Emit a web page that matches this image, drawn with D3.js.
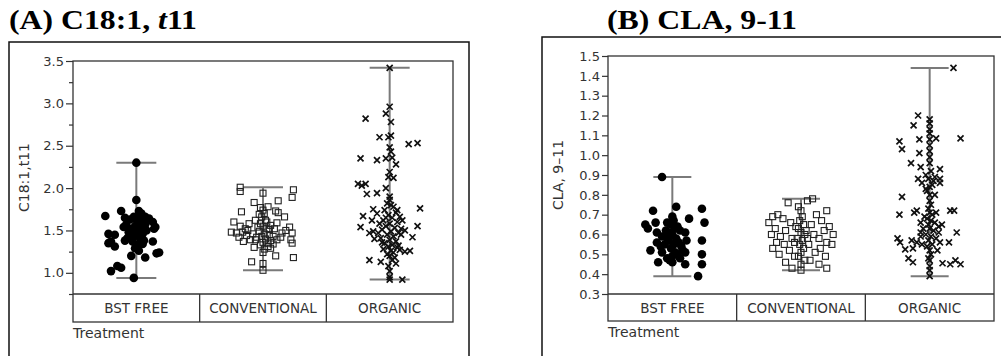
<!DOCTYPE html>
<html>
<head>
<meta charset="utf-8">
<script src="https://cdn.jsdelivr.net/npm/d3@7"></script>
<style>
  html, body { margin: 0; padding: 0; background: #fff; }
  svg { display: block; }
</style>
</head>
<body>
<svg id="chart" width="1001" height="356"></svg>
<script>
// Treatment groups shared by both panels
const treatments = ["BST FREE", "CONVENTIONAL", "ORGANIC"];

// Panel A: C18:1 t11 — each point is [jitter (fraction of group width), value]
const t11BstFree = [
  [0.00,2.30],[0.00,1.86],[-0.245,1.67],[-0.12,1.73],[-0.09,1.65],[0.02,1.73],[0.03,1.69],[0.07,1.66],
  [0.13,1.60],[0.15,1.54],[0.14,1.52],[-0.10,1.54],[-0.08,1.57],[-0.22,1.46],[-0.17,1.45],[-0.20,1.37],
  [-0.22,1.35],[-0.17,1.31],[-0.09,1.38],[-0.05,1.43],[0.13,1.37],[0.16,1.23],[0.18,1.24],[0.07,1.18],
  [-0.04,1.20],[-0.15,1.08],[-0.12,1.06],[-0.20,1.02],[-0.02,0.94],
  [0.00,1.63],[0.01,1.59],[-0.01,1.55],[0.02,1.51],[-0.02,1.47],[0.00,1.44],[0.03,1.41],[-0.03,1.37],
  [0.01,1.33],[-0.01,1.29],[0.02,1.26],[0.04,1.61],[-0.04,1.52],[0.05,1.46],[-0.05,1.63],[0.06,1.38],
  [0.04,1.70],[-0.02,1.66],[0.03,1.54],[0.08,1.50],[-0.06,1.48],[0.07,1.57],[-0.07,1.41],[0.10,1.64],[0.05,1.34]
];
const t11Conventional = [
  [-0.18,2.01],[-0.18,1.96],[0.00,1.94],[0.24,1.98],[0.23,1.89],[-0.07,1.83],[0.12,1.85],[0.04,1.78],
  [-0.02,1.77],[-0.17,1.72],[0.10,1.73],[0.12,1.71],[0.17,1.66],[-0.03,1.69],[-0.23,1.60],[-0.18,1.55],
  [-0.11,1.58],[0.11,1.59],[0.21,1.54],[-0.25,1.48],[-0.21,1.47],[-0.16,1.48],[-0.12,1.50],[0.05,1.51],
  [0.15,1.47],[0.23,1.47],[-0.19,1.42],[-0.155,1.37],[-0.10,1.39],[-0.06,1.39],[0.06,1.38],[0.11,1.39],
  [0.22,1.39],[0.23,1.35],[-0.07,1.30],[0.04,1.31],[0.06,1.29],[0.10,1.20],[0.24,1.18],[-0.09,1.13],
  [0.00,1.11],[0.00,1.03],
  [0.00,1.74],[0.01,1.70],[-0.01,1.66],[0.02,1.62],[-0.02,1.58],[0.00,1.55],[0.03,1.52],[-0.03,1.49],
  [0.01,1.46],[-0.01,1.43],[0.02,1.40],[0.00,1.36],[-0.02,1.33],[0.01,1.28],[0.00,1.24],[0.03,1.60],
  [-0.04,1.54],[0.05,1.45],[-0.05,1.42],[0.04,1.35],[0.06,1.56],[-0.06,1.62],[0.08,1.43],[-0.08,1.46],
  [0.09,1.52],[-0.13,1.44],[0.14,1.42],[0.18,1.50],[-0.14,1.52],[0.08,1.34]
];
const t11Organic = [
  [0.00,3.42],[0.00,2.96],[-0.03,2.88],[0.01,2.78],[-0.19,2.82],[-0.08,2.60],[-0.01,2.60],[0.01,2.62],
  [0.15,2.52],[0.22,2.53],[0.00,2.48],[0.01,2.43],[-0.23,2.35],[-0.10,2.33],[-0.03,2.35],[0.02,2.36],
  [0.05,2.28],[0.00,2.19],[-0.01,2.13],[0.03,2.12],[-0.25,2.05],[-0.22,2.03],[-0.19,2.05],[-0.18,1.93],
  [-0.10,1.94],[-0.03,2.00],[0.00,1.90],[0.01,1.80],[-0.13,1.75],[0.24,1.76],[-0.21,1.67],[-0.14,1.62],
  [-0.23,1.54],[-0.16,1.47],[-0.13,1.49],[0.22,1.55],[0.18,1.42],[0.09,1.45],[0.08,1.27],[0.16,1.26],
  [0.12,1.25],[-0.16,1.15],[-0.07,1.13],[0.05,1.11],[0.00,0.95],[0.10,0.92],[0.00,0.92],
  [0.00,1.86],[-0.02,1.82],[0.03,1.78],[-0.04,1.74],[0.05,1.71],[-0.01,1.68],[0.02,1.65],[-0.05,1.62],
  [0.06,1.60],[0.00,1.58],[-0.03,1.55],[0.04,1.53],[-0.06,1.51],[0.01,1.49],[0.07,1.47],[-0.02,1.45],
  [0.03,1.43],[-0.07,1.41],[0.00,1.39],[0.05,1.37],[-0.04,1.35],[0.02,1.33],[-0.01,1.31],[0.06,1.30],
  [-0.05,1.28],[0.01,1.26],[0.03,1.24],[-0.02,1.22],[0.00,1.20],[0.04,1.18],[-0.03,1.65],[0.08,1.66],
  [-0.08,1.58],[0.09,1.52],[-0.09,1.47],[0.10,1.62],[-0.10,1.70],[0.06,1.74],[-0.06,1.36],[0.07,1.32],
  [0.02,1.15],[-0.01,1.08],[0.00,1.02],[0.12,1.50],[-0.12,1.40]
];

// Panel B: CLA 9-11
const claBstFree = [
  [-0.08,0.89],[0.03,0.74],[-0.15,0.72],[0.23,0.73],[0.25,0.66],[0.13,0.68],[-0.21,0.65],[-0.19,0.63],
  [-0.13,0.66],[-0.12,0.61],[-0.08,0.59],[-0.05,0.62],[0.10,0.61],[0.11,0.57],[0.23,0.57],[-0.12,0.56],
  [-0.09,0.54],[-0.17,0.52],[-0.08,0.51],[0.07,0.54],[0.08,0.52],[0.10,0.51],[0.23,0.50],[-0.11,0.46],
  [-0.02,0.47],[0.06,0.48],[0.10,0.45],[0.23,0.45],[0.20,0.39],[0.00,0.46],
  [0.00,0.69],[0.01,0.67],[-0.01,0.65],[0.02,0.63],[-0.02,0.61],[0.00,0.60],[0.03,0.58],[-0.03,0.57],
  [0.01,0.55],[-0.01,0.53],[0.02,0.51],[0.00,0.49],[0.04,0.64],[-0.04,0.66],[0.05,0.56],[-0.05,0.59],
  [0.06,0.62],[-0.06,0.55],[0.04,0.50],[-0.04,0.48]
];
const claConventional = [
  [0.09,0.78],[-0.10,0.76],[0.05,0.77],[0.20,0.72],[-0.02,0.74],[-0.18,0.70],[-0.22,0.69],[-0.14,0.68],
  [0.12,0.70],[0.16,0.67],[-0.25,0.66],[-0.08,0.66],[0.22,0.64],[0.08,0.65],[-0.20,0.63],[-0.12,0.62],
  [0.18,0.62],[0.25,0.60],[-0.23,0.60],[-0.16,0.59],[0.10,0.60],[0.14,0.58],[-0.07,0.58],[-0.19,0.56],
  [0.20,0.56],[0.24,0.55],[-0.13,0.55],[0.06,0.55],[-0.22,0.53],[0.15,0.53],[-0.09,0.52],[0.11,0.51],
  [-0.17,0.50],[0.19,0.49],[-0.05,0.49],[0.07,0.47],[-0.12,0.46],[0.14,0.45],[-0.07,0.43],[0.20,0.43],
  [0.00,0.42],
  [0.00,0.72],[0.01,0.69],[-0.01,0.67],[0.02,0.65],[-0.02,0.63],[0.00,0.61],[0.03,0.60],[-0.03,0.58],
  [0.01,0.57],[-0.01,0.55],[0.02,0.53],[0.00,0.51],[-0.02,0.49],[0.04,0.62],[-0.04,0.64],[0.05,0.58],
  [-0.05,0.56],[0.03,0.47],[0.00,0.45]
];
const claOrganic = [
  [0.185,1.44],[-0.09,1.20],[-0.125,1.15],[0.00,1.18],[0.00,1.16],[0.00,1.13],[0.00,1.11],[-0.235,1.07],
  [-0.215,1.03],[-0.08,1.08],[0.00,1.08],[0.05,1.085],[0.24,1.085],[-0.08,1.01],[0.00,0.99],[-0.145,0.96],
  [-0.07,0.94],[-0.03,0.90],[0.08,0.93],[0.04,0.89],[-0.09,0.88],[-0.06,0.86],[0.08,0.88],[0.08,0.86],
  [0.00,0.84],[-0.215,0.79],[0.00,0.77],[-0.235,0.70],[-0.12,0.71],[-0.10,0.72],[0.05,0.71],[0.16,0.72],
  [0.19,0.72],[0.095,0.65],[0.07,0.64],[-0.07,0.61],[0.21,0.61],[-0.25,0.58],[-0.23,0.56],[-0.19,0.525],
  [-0.14,0.57],[-0.13,0.53],[-0.10,0.56],[-0.07,0.59],[0.08,0.56],[0.15,0.56],[-0.165,0.48],[-0.13,0.46],
  [0.00,0.47],[0.10,0.455],[0.16,0.45],[0.20,0.47],[0.24,0.45],[0.00,0.39],
  [0.00,1.05],[0.00,1.02],[0.00,0.96],[0.01,0.92],[-0.01,0.88],[0.02,0.85],[-0.02,0.82],[0.00,0.80],
  [0.01,0.75],[-0.01,0.73],[0.00,0.71],[0.02,0.70],[-0.02,0.68],[0.01,0.67],[-0.01,0.65],[0.00,0.63],
  [0.03,0.62],[-0.03,0.60],[0.01,0.59],[-0.01,0.57],[0.02,0.55],[-0.02,0.54],[0.00,0.52],[0.01,0.50],
  [-0.01,0.48],[0.00,0.44],[0.00,0.42],[0.04,0.66],[-0.04,0.69],[0.05,0.58],[-0.05,0.63],[0.06,0.52],
  [-0.06,0.55],[0.03,0.87],[-0.03,0.83],[0.04,0.80],[0.07,0.61],[-0.07,0.66]
];

// Axis ticks
const t11MajorTicks = [1.0, 1.5, 2.0, 2.5, 3.0, 3.5];
const t11MinorTicks = [0.75, 1.25, 1.75, 2.25, 2.75, 3.25];
const claTicks = [0.3, 0.4, 0.5, 0.6, 0.7, 0.8, 0.9, 1.0, 1.1, 1.2, 1.3, 1.4, 1.5];

const svg = d3.select("#chart");
const SANS = "'DejaVu Sans', Verdana, sans-serif";
const INK = "#333";

function drawPanel(cfg) {
  const g = svg.append("g");

  // outer frame
  g.append("rect")
    .attr("x", cfg.frame[0]).attr("y", cfg.frame[1])
    .attr("width", cfg.frame[2] - cfg.frame[0]).attr("height", 400)
    .attr("fill", "none").attr("stroke", "#111").attr("stroke-width", 1.5);

  // title (bold serif, slightly wide)
  const title = g.append("text")
    .attr("font-family", "'Liberation Serif', 'Times New Roman', serif")
    .attr("font-weight", "bold").attr("font-size", 28).attr("fill", "#000");
  cfg.title.forEach(part => {
    title.append("tspan").text(part.text)
      .attr("font-style", part.italic ? "italic" : null);
  });
  const tw = title.node().getComputedTextLength();
  title.attr("transform", `translate(${cfg.titlePos[0]},${cfg.titlePos[1]}) scale(${cfg.titleWidth / tw},1)`);

  const x = d3.scaleBand().domain(treatments).range([cfg.left, cfg.right]);
  const y = d3.scaleLinear().domain(cfg.domain).range([cfg.bottom, cfg.top]);

  // y axis ticks
  const axisG = g.append("g").attr("transform", `translate(${cfg.left},0)`);
  axisG.call(d3.axisLeft(y).tickValues(cfg.majorTicks).tickFormat(d3.format(".1f"))
      .tickSize(cfg.majorTickLen).tickPadding(2).tickSizeOuter(0))
    .call(a => a.select(".domain").remove())
    .call(a => a.selectAll("line").attr("stroke", INK).attr("stroke-width", 1.2))
    .call(a => a.selectAll("text").attr("fill", INK).attr("font-family", SANS).attr("font-size", 13));
  if (cfg.minorTicks) {
    const minorG = g.append("g").attr("transform", `translate(${cfg.left},0)`);
    minorG.call(d3.axisLeft(y).tickValues(cfg.minorTicks).tickFormat("").tickSize(4).tickSizeOuter(0))
      .call(a => a.select(".domain").remove())
      .call(a => a.selectAll("line").attr("stroke", INK).attr("stroke-width", 1.2));
  }

  // plot box, category row and dividers
  const box = g.append("g").attr("fill", "none").attr("stroke", INK).attr("stroke-width", 1.3);
  box.append("rect").attr("x", cfg.left).attr("y", cfg.top)
    .attr("width", cfg.right - cfg.left).attr("height", cfg.catBottom - cfg.top);
  box.append("line").attr("x1", cfg.left).attr("x2", cfg.right)
    .attr("y1", cfg.bottom).attr("y2", cfg.bottom);
  treatments.slice(1).forEach(t => {
    box.append("line").attr("x1", x(t)).attr("x2", x(t))
      .attr("y1", cfg.bottom).attr("y2", cfg.catBottom);
  });

  // category labels
  g.append("g").selectAll("text").data(treatments).join("text")
    .attr("x", d => x(d) + x.bandwidth() / 2)
    .attr("y", (cfg.bottom + cfg.catBottom) / 2 + 5)
    .attr("text-anchor", "middle").attr("font-family", SANS).attr("font-size", 13.5)
    .attr("fill", INK).text(d => d);

  // x axis title
  g.append("text").attr("x", cfg.left).attr("y", cfg.catBottom + 16)
    .attr("font-family", SANS).attr("font-size", 14).attr("fill", INK).text("Treatment");

  // y axis title
  g.append("text")
    .attr("transform", `translate(${cfg.yLabelX},${(cfg.top + cfg.bottom) / 2}) rotate(-90)`)
    .attr("text-anchor", "middle").attr("font-family", SANS).attr("font-size", 14)
    .attr("fill", INK).text(cfg.yLabel);

  // range whiskers (min to max) per group
  cfg.groups.forEach((pts, i) => {
    const cx = x(treatments[i]) + x.bandwidth() / 2;
    const vals = pts.map(p => p[1]);
    const lo = d3.min(vals), hi = d3.max(vals);
    const wg = g.append("g").attr("stroke", "#7a7a7a").attr("stroke-width", 2);
    wg.append("line").attr("x1", cx).attr("x2", cx).attr("y1", y(lo)).attr("y2", y(hi));
    [lo, hi].forEach(v => wg.append("line")
      .attr("x1", cx - cfg.capHalf).attr("x2", cx + cfg.capHalf)
      .attr("y1", y(v)).attr("y2", y(v)));
  });

  // points
  const px = (d, i) => x(treatments[i]) + x.bandwidth() / 2 + d[0] * x.bandwidth();
  // BST FREE: filled circles
  g.append("g").selectAll("circle").data(cfg.groups[0]).join("circle")
    .attr("cx", d => px(d, 0)).attr("cy", d => y(d[1])).attr("r", 4.3).attr("fill", "#000");
  // CONVENTIONAL: open squares
  const s = 6;
  g.append("g").selectAll("rect").data(cfg.groups[1]).join("rect")
    .attr("x", d => px(d, 1) - s / 2).attr("y", d => y(d[1]) - s / 2)
    .attr("width", s).attr("height", s)
    .attr("fill", "none").attr("stroke", "#222").attr("stroke-width", 1.1);
  // ORGANIC: x marks
  const h = 3;
  g.append("g").selectAll("path").data(cfg.groups[2]).join("path")
    .attr("d", d => {
      const cx = px(d, 2), cy = y(d[1]);
      return `M${cx - h},${cy - h}L${cx + h},${cy + h}M${cx - h},${cy + h}L${cx + h},${cy - h}`;
    })
    .attr("fill", "none").attr("stroke", "#111").attr("stroke-width", 1.7);
}

drawPanel({
  frame: [9, 42, 469],
  title: [{ text: "(A) C18:1, " }, { text: "t", italic: true }, { text: "11" }],
  titlePos: [9, 29], titleWidth: 188,
  left: 73, right: 453, top: 61, bottom: 294, catBottom: 322,
  domain: [0.75, 3.5],
  majorTicks: t11MajorTicks, minorTicks: t11MinorTicks, majorTickLen: 7,
  yLabel: "C18:1,t11", yLabelX: 29,
  capHalf: 20,
  groups: [t11BstFree, t11Conventional, t11Organic]
});

drawPanel({
  frame: [542, 37, 1010],
  title: [{ text: "(B) CLA, 9-11" }],
  titlePos: [607, 29], titleWidth: 190,
  left: 608, right: 994, top: 56, bottom: 294, catBottom: 321,
  domain: [0.3, 1.5],
  majorTicks: claTicks, minorTicks: null, majorTickLen: 6,
  yLabel: "CLA, 9\u201311", yLabelX: 563,
  capHalf: 19,
  groups: [claBstFree, claConventional, claOrganic]
});
</script>
</body>
</html>
